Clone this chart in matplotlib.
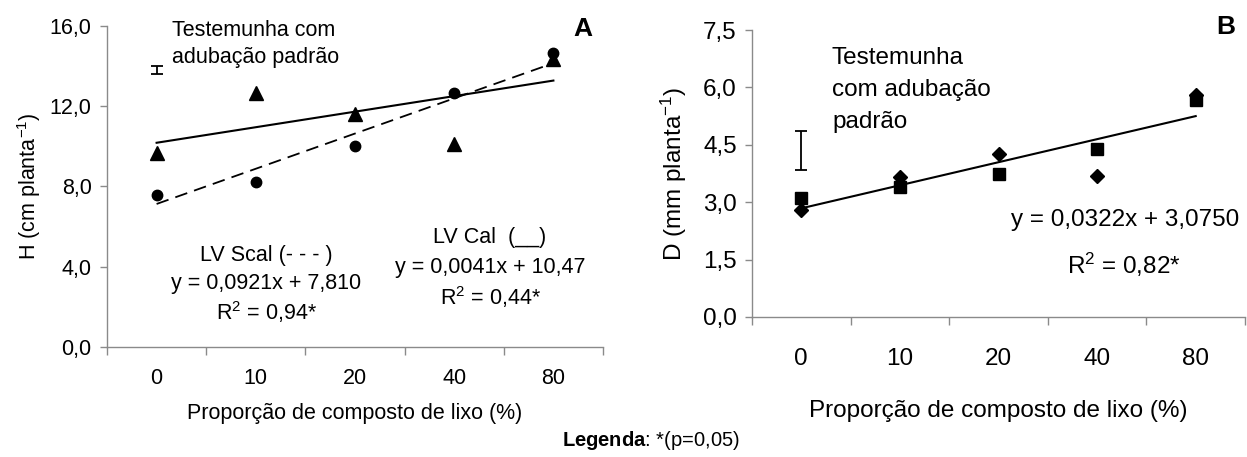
import matplotlib
matplotlib.use("Agg")
import matplotlib.pyplot as plt
import numpy as np

plt.rcParams['font.family'] = ['Liberation Sans', 'DejaVu Sans']
plt.rcParams['mathtext.fontset'] = 'custom'
plt.rcParams['mathtext.rm'] = 'Liberation Sans'
plt.rcParams['mathtext.it'] = 'Liberation Sans:italic'
plt.rcParams['mathtext.bf'] = 'Liberation Sans:bold'

# ---- data ----
categories = ['0', '10', '20', '40', '80']

# Panel A: H (cm planta-1)
h_lv_cal = [9.68, 12.65, 11.6, 10.1, 14.35]      # triangles
h_lv_scal = [7.58, 8.24, 10.04, 12.65, 14.64]    # circles
h_trend_cal = [10.18, 13.28]                     # solid trend (first, last category)
h_trend_scal = [7.13, 14.15]                     # dashed trend
h_control = [13.61, 14.02]                       # testemunha error bar (low, high)

# Panel B: D (mm planta-1)
d_squares = [3.11, 3.40, 3.73, 4.40, 5.67]
d_diamonds = [2.79, 3.66, 4.26, 3.69, 5.80]
d_trend = [2.84, 5.25]
d_control = [3.84, 4.87]

a_yticks = [0, 4, 8, 12, 16]
b_yticks = [0, 1.5, 3.0, 4.5, 6.0, 7.5]

W, H = 1247, 457
fig = plt.figure(figsize=(W / 100, H / 100), dpi=100)

def box(l, r, t, b):
    return [l / W, 1 - b / H, (r - l) / W, (b - t) / H]

grey = '#8a8a8a'

def style(ax, yticks, ylim, fs, labpad):
    n = len(categories)
    ax.set_xlim(0, n)
    ax.set_ylim(*ylim)
    for s in ['top', 'right']:
        ax.spines[s].set_visible(False)
    for s in ['left', 'bottom']:
        ax.spines[s].set_color(grey)
        ax.spines[s].set_linewidth(1.0)
    ax.set_yticks(yticks)
    ax.set_yticklabels([f'{v:.1f}'.replace('.', ',') for v in yticks], fontsize=fs)
    ax.tick_params(axis='y', length=5, color=grey, width=1.0, pad=6)
    ax.set_xticks(np.arange(n) + 0.5)
    ax.set_xticklabels(categories, fontsize=fs)
    ax.tick_params(axis='x', which='major', length=0, pad=labpad)
    ax.set_xticks(np.arange(n + 1), minor=True)
    ax.tick_params(axis='x', which='minor', length=6, color=grey, width=1.0)

x = np.arange(len(categories)) + 0.5
xe = [x[0], x[-1]]

# ---- Panel A ----
axA = fig.add_axes(box(107, 603, 26, 347))
style(axA, a_yticks, (0, 16), 15.5, 15)
axA.plot(xe, h_trend_scal, color='black', lw=1.3, ls=(0, (7, 4)))
axA.plot(xe, h_trend_cal, color='black', lw=1.5)
axA.plot(x, h_lv_cal, ls='none', marker='^', ms=9.5, color='black')
axA.plot(x, h_lv_scal, ls='none', marker='o', ms=7.5, color='black')
axA.errorbar([x[0]], [np.mean(h_control)], yerr=[[np.mean(h_control) - h_control[0]], [h_control[1] - np.mean(h_control)]],
             fmt='none', ecolor='black', elinewidth=1.3, capsize=4.5, capthick=1.3)
axA.set_ylabel('H (cm planta$^{\\mathrm{-1}}$)', fontsize=15.5, labelpad=5)
axA.set_xlabel('Proporção de composto de lixo (%)', fontsize=15.5, labelpad=10)

def t(ax, px, py, s, **kw):
    ax.text(px / W, 1 - py / H, s, transform=fig.transFigure, **kw)

t(axA, 172, 30, 'Testemunha com', fontsize=15.5, va='center', ha='left')
t(axA, 172, 57, 'adubação padrão', fontsize=15.5, va='center', ha='left')
t(axA, 266, 255, 'LV Scal (- - - )', fontsize=15.5, va='center', ha='center')
t(axA, 266, 283, 'y = 0,0921x + 7,810', fontsize=15.5, va='center', ha='center')
t(axA, 266, 312, 'R$^{\\mathrm{2}}$ = 0,94*', fontsize=15.5, va='center', ha='center')
t(axA, 490, 238, 'LV Cal  (__)', fontsize=15.5, va='center', ha='center')
t(axA, 490, 268, 'y = 0,0041x + 10,47', fontsize=15.5, va='center', ha='center')
t(axA, 490, 297, 'R$^{\\mathrm{2}}$ = 0,44*', fontsize=15.5, va='center', ha='center')
t(axA, 583, 29, 'A', fontsize=19, fontweight='bold', va='center', ha='center')

# ---- Panel B ----
axB = fig.add_axes(box(752, 1245, 30, 317))
style(axB, b_yticks, (0, 7.5), 17.5, 22)
axB.plot(xe, d_trend, color='black', lw=1.5)
axB.plot(x, d_squares, ls='none', marker='s', ms=8, color='black')
axB.plot(x, d_diamonds, ls='none', marker='D', ms=7.5, color='black')
axB.errorbar([x[0]], [np.mean(d_control)], yerr=[[np.mean(d_control) - d_control[0]], [d_control[1] - np.mean(d_control)]],
             fmt='none', ecolor='black', elinewidth=1.3, capsize=4.5, capthick=1.3)
axB.set_ylabel('D (mm planta$^{\\mathrm{-1}}$)', fontsize=17.5, labelpad=10)
axB.set_xlabel('Proporção de composto de lixo (%)', fontsize=17.5, labelpad=22)

t(axB, 832, 58, 'Testemunha', fontsize=17.5, va='center', ha='left')
t(axB, 832, 90, 'com adubação', fontsize=17.5, va='center', ha='left')
t(axB, 832, 122, 'padrão', fontsize=17.5, va='center', ha='left')
t(axB, 1125, 220, 'y = 0,0322x + 3,0750', fontsize=17.5, va='center', ha='center')
t(axB, 1124, 265, 'R$^{\\mathrm{2}}$ = 0,82*', fontsize=17.5, va='center', ha='center')
t(axB, 1226, 27, 'B', fontsize=19, fontweight='bold', va='center', ha='center')

fig.text(651 / W, 1 - 441 / H, '$\\mathbf{Legenda}$: *(p=0,05)', fontsize=14.5, ha='center', va='center')

fig.savefig('out.png', dpi=100)
